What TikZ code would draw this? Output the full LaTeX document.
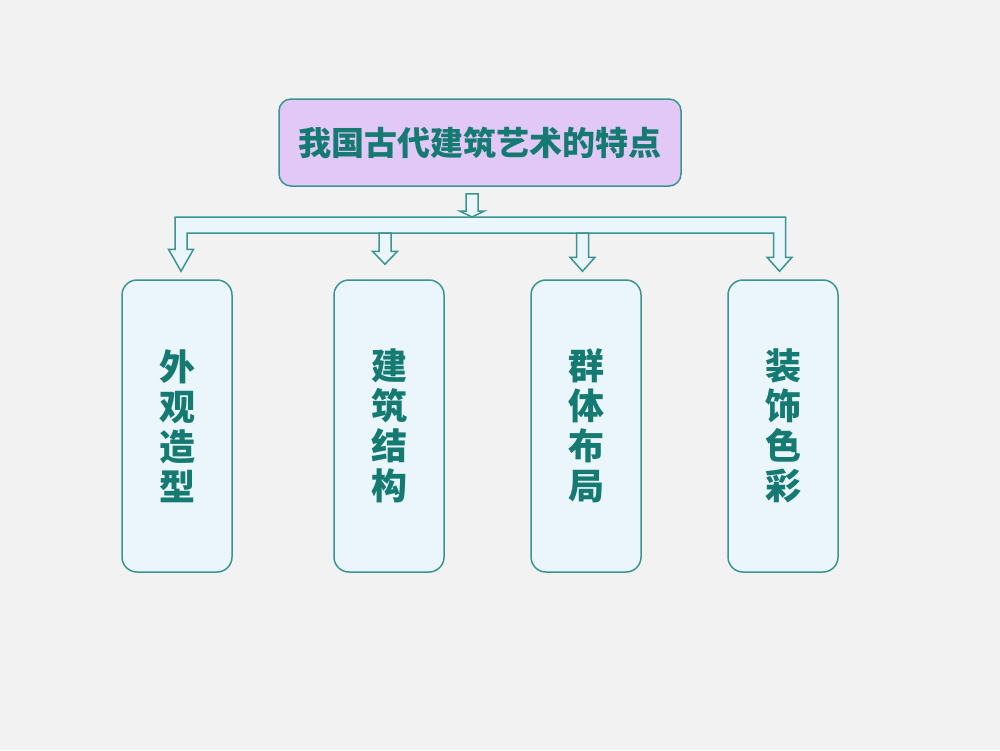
\documentclass[tikz,border=0pt]{standalone}
\usepackage{fontspec}
\setmainfont{Noto Sans CJK SC}
\usetikzlibrary{calc}
\definecolor{bggray}{HTML}{F2F2F2}
\definecolor{tealline}{HTML}{3A9490}
\definecolor{tealtext}{HTML}{147A72}
\definecolor{lavender}{HTML}{E1C8F7}
\definecolor{paleblue}{HTML}{EAF6FC}
\tikzset{
  topbox/.style={draw=tealline, fill=lavender, rounded corners=6pt, line width=0.75pt,
    minimum width=201pt, minimum height=43.5pt, text=tealtext,
    font=\fontsize{16.5}{18}\selectfont\bfseries},
  itembox/.style={draw=tealline, fill=paleblue, rounded corners=7.5pt, line width=0.75pt,
    minimum width=55pt, minimum height=146pt, text=tealtext, align=center,
    font=\fontsize{18}{20}\selectfont\bfseries},
  arrowline/.style={draw=tealline, fill=paleblue, line width=0.75pt, line join=miter}
}
% hollow arrow: #1 start, #2 tip, #3 head length
\newcommand\blockdown[3]{%
  \draw[arrowline] ($(#1)+(-6,0)$) -- ($(#2)+(-6,-#3)$) -- ($(#2)+(-12.5,-#3)$) -- (#2)
    -- ($(#2)+(12.5,-#3)$) -- ($(#2)+(6,-#3)$) -- ($(#1)+(6,0)$) -- cycle;}

\begin{document}
\begin{tikzpicture}[x=0.5pt,y=-0.5pt]
  \fill[bggray] (0,0) rectangle (1000,750);

  \node[topbox] (title) at (480,142.5) {我国古代建筑艺术的特点};

  \node[itembox] (b1) at (177,426) {外\\观\\造\\型};
  \node[itembox] (b2) at (389,426) {建\\筑\\结\\构};
  \node[itembox] (b3) at (586,426) {群\\体\\布\\局};
  \node[itembox] (b4) at (783,426) {装\\饰\\色\\彩};

  \coordinate (barT) at (0,217);
  \coordinate (barB) at (0,233);
  \coordinate (tip1) at ($(b1.north)+(4,-8)$);
  \coordinate (tip2) at ($(b2.north)+(-4,-15)$);
  \coordinate (tip3) at ($(b3.north)+(-3.5,-8)$);
  \coordinate (tip4) at ($(b4.north)+(-3.5,-8)$);

  % arrow from the title
  \coordinate (s0) at ($(title.south)+(-8,7)$);
  \coordinate (tip0) at (s0 |- barT);
  \blockdown{s0}{tip0}{6}

  % bar with the two outer arrows
  \draw[arrowline] ($(tip1 |- barT)+(-6,0)$) -- ($(tip4 |- barT)+(6,0)$)
    -- ($(tip4)+(6,-14)$) -- ($(tip4)+(12.5,-14)$) -- (tip4)
    -- ($(tip4)+(-12.5,-14)$) -- ($(tip4)+(-6,-14)$) -- ($(tip4 |- barB)+(-6,0)$)
    -- ($(tip1 |- barB)+(6,0)$) -- ($(tip1)+(6,-22)$) -- ($(tip1)+(12.5,-22)$)
    -- (tip1) -- ($(tip1)+(-12.5,-22)$) -- ($(tip1)+(-6,-22)$) -- cycle;

  % inner arrows
  \coordinate (s2) at (tip2 |- barB);
  \coordinate (s3) at (tip3 |- barB);
  \blockdown{s2}{tip2}{13}
  \blockdown{s3}{tip3}{14}
\end{tikzpicture}
\end{document}
